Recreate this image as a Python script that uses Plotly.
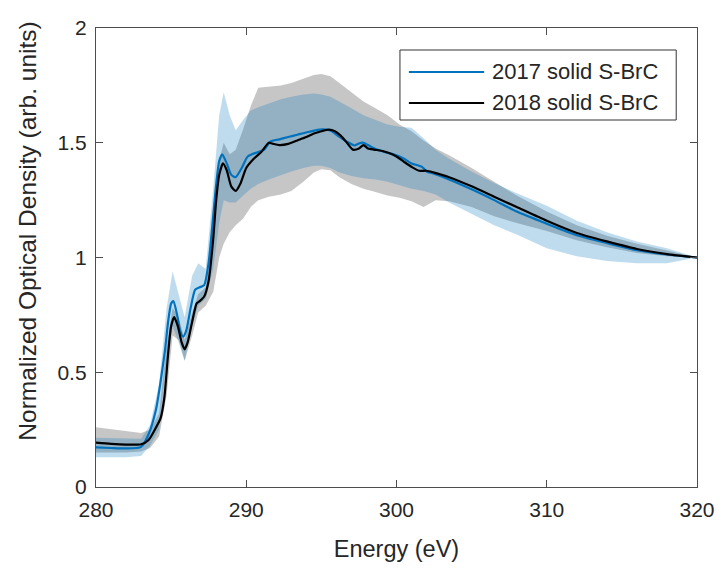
import plotly.graph_objects as go

# ---------------- data ----------------
# 2017 solid S-BrC mean spectrum
e17 = [280, 281, 282, 283, 283.5, 284, 284.3, 284.6, 284.8, 285.0, 285.15, 285.4, 285.6, 285.8,
       286.0, 286.3, 286.6, 286.9, 287.2, 287.5, 287.8, 288.0, 288.2, 288.4, 288.7, 289.0, 289.3,
       289.7, 290.1, 290.8, 291.2, 291.6, 292.2, 292.8, 293.4, 294.2, 295.0, 295.6, 296.1, 296.7,
       297.2, 297.5, 297.8, 298.1, 298.5, 299.2, 299.9, 300.5, 301.0, 301.5, 301.7, 302.0, 302.5,
       303.5, 305.0, 306.5, 308.0, 310.0, 312.0, 314.0, 316.0, 318.0, 320.0]
od17 = [0.173, 0.170, 0.168, 0.175, 0.23, 0.34, 0.46, 0.60, 0.72, 0.80, 0.81, 0.75, 0.68, 0.655,
        0.68, 0.78, 0.86, 0.87, 0.88, 0.98, 1.18, 1.32, 1.42, 1.45, 1.41, 1.36, 1.35,
        1.39, 1.44, 1.46, 1.47, 1.505, 1.515, 1.525, 1.535, 1.548, 1.558, 1.553, 1.53, 1.505,
        1.488, 1.497, 1.50, 1.49, 1.476, 1.46, 1.447, 1.43, 1.41, 1.40, 1.395, 1.375, 1.365,
        1.34, 1.297, 1.25, 1.20, 1.147, 1.097, 1.063, 1.032, 1.013, 1.0]

# 2018 solid S-BrC mean spectrum
e18 = [280, 281, 282, 283, 283.5, 284, 284.3, 284.55, 284.8, 285.0, 285.2, 285.45, 285.7, 285.9,
       286.1, 286.4, 286.7, 286.9, 287.2, 287.5, 287.8, 288.0, 288.2, 288.45, 288.7, 289.0, 289.3,
       289.6, 290.0, 290.5, 291.0, 291.5, 291.8, 292.2, 292.8, 293.4, 294.0, 294.5, 295.0, 295.5,
       295.9, 296.3, 296.7, 297.1, 297.5, 297.8, 298.1, 298.5, 299.0, 299.5, 300.0, 300.5, 301.0,
       301.5, 302.0, 302.5, 303.5, 305.0, 306.5, 308.0, 310.0, 312.0, 314.0, 316.0, 318.0, 320.0]
od18 = [0.193, 0.188, 0.185, 0.186, 0.205, 0.26, 0.30, 0.39, 0.58, 0.70, 0.74, 0.70, 0.63, 0.60,
        0.63, 0.72, 0.80, 0.81, 0.83, 0.90, 1.08, 1.25, 1.36, 1.41, 1.38, 1.31, 1.29,
        1.32, 1.39, 1.43, 1.46, 1.50, 1.495, 1.49, 1.495, 1.51, 1.525, 1.54, 1.55, 1.557,
        1.55, 1.53, 1.50, 1.47, 1.475, 1.49, 1.475, 1.47, 1.465, 1.455, 1.44, 1.417, 1.395,
        1.378, 1.378, 1.37, 1.35, 1.31, 1.265, 1.22, 1.16, 1.107, 1.07, 1.037, 1.015, 1.0]

# variability bands (energy grid shared by both bands)
e_band = [280, 282, 283, 283.6, 284.2, 284.7, 285.1, 285.5, 285.9, 286.4, 286.8, 287.3, 287.8,
          288.2, 288.5, 288.9, 289.3, 289.8, 290.3, 290.8, 291.5, 292.3, 293.0, 293.8, 294.5,
          295.0, 295.6, 296.2, 297.0, 297.8, 298.6, 299.4, 300.2, 301.0, 301.8, 302.6, 303.5,
          305.0, 306.5, 308.0, 310.0, 312.0, 314.0, 316.0, 318.0, 320.0]
hi18 = [0.26, 0.245, 0.235, 0.25, 0.32, 0.62, 0.78, 0.74, 0.64, 0.76, 0.84, 0.87, 1.12,
        1.42, 1.50, 1.45, 1.47, 1.56, 1.66, 1.74, 1.745, 1.75, 1.76, 1.78, 1.795,
        1.80, 1.79, 1.76, 1.72, 1.68, 1.65, 1.62, 1.58, 1.55, 1.51, 1.475, 1.445,
        1.39, 1.33, 1.27, 1.20, 1.14, 1.095, 1.06, 1.03, 1.0]
lo18 = [0.15, 0.15, 0.155, 0.17, 0.22, 0.40, 0.66, 0.64, 0.55, 0.66, 0.76, 0.79, 0.85,
        1.00, 1.06, 1.11, 1.14, 1.17, 1.22, 1.25, 1.265, 1.275, 1.29, 1.33, 1.37,
        1.385, 1.38, 1.35, 1.32, 1.30, 1.285, 1.27, 1.26, 1.245, 1.22, 1.25, 1.245,
        1.22, 1.18, 1.15, 1.115, 1.075, 1.045, 1.02, 1.005, 1.0]
hi17 = [0.215, 0.21, 0.21, 0.27, 0.45, 0.78, 0.94, 0.84, 0.74, 0.92, 0.975, 0.95, 1.30,
        1.62, 1.72, 1.62, 1.555, 1.60, 1.64, 1.655, 1.67, 1.69, 1.70, 1.71, 1.715,
        1.71, 1.70, 1.68, 1.65, 1.62, 1.60, 1.58, 1.57, 1.565, 1.52, 1.47, 1.43,
        1.375, 1.325, 1.28, 1.225, 1.16, 1.11, 1.07, 1.04, 1.0]
lo17 = [0.13, 0.13, 0.135, 0.18, 0.25, 0.55, 0.70, 0.63, 0.55, 0.70, 0.79, 0.82, 0.95,
        1.15, 1.25, 1.24, 1.24, 1.27, 1.30, 1.32, 1.34, 1.36, 1.375, 1.39, 1.40,
        1.40, 1.39, 1.37, 1.355, 1.345, 1.34, 1.33, 1.315, 1.30, 1.29, 1.275, 1.24,
        1.19, 1.14, 1.10, 1.04, 1.005, 0.985, 0.975, 0.975, 1.0]

x_ticks = [280, 290, 300, 310, 320]
y_ticks = [0, 0.5, 1, 1.5, 2]
names = ["2017 solid S-BrC", "2018 solid S-BrC"]
x_title = "Energy (eV)"
y_title = "Normalized Optical Density (arb. units)"

BLUE = "#0072BD"
BLACK = "#000000"
FONT = "Arial, 'Liberation Sans', sans-serif"
TXT = "#262626"
AX = "#4d4d4d"

fig = go.Figure()

# gray band (2018)
fig.add_trace(go.Scatter(
    x=e_band + e_band[::-1], y=hi18 + lo18[::-1], fill="toself",
    fillcolor="rgba(128,128,128,0.45)", line=dict(width=0), mode="lines",
    hoverinfo="skip", showlegend=False))
# light blue band (2017)
fig.add_trace(go.Scatter(
    x=e_band + e_band[::-1], y=hi17 + lo17[::-1], fill="toself",
    fillcolor="rgba(0,114,189,0.25)", line=dict(width=0), mode="lines",
    hoverinfo="skip", showlegend=False))

fig.add_trace(go.Scatter(x=e17, y=od17, mode="lines", name=names[0],
                         line=dict(color=BLUE, width=2.2, shape="spline", smoothing=0.6),
                         showlegend=False))
fig.add_trace(go.Scatter(x=e18, y=od18, mode="lines", name=names[1],
                         line=dict(color=BLACK, width=2.2, shape="spline", smoothing=0.6),
                         showlegend=False))

W, H = 727, 571
L, R, T, B = 96, 24, 28, 84
pw, ph = W - L - R, H - T - B


def px(x):
    return (x - L) / pw


def py(y):
    return (H - B - y) / ph


# custom legend box (MATLAB style, long line samples)
fig.add_shape(type="rect", xref="paper", yref="paper",
              x0=px(403), x1=px(682), y0=py(120), y1=py(50),
              line=dict(color="#333333", width=1), fillcolor="white", layer="above")
for i, (nm, col) in enumerate(zip(names, [BLUE, BLACK])):
    yc = [72, 103][i]
    fig.add_shape(type="line", xref="paper", yref="paper",
                  x0=px(412), x1=px(488), y0=py(yc), y1=py(yc),
                  line=dict(color=col, width=2.2), layer="above")
    fig.add_annotation(xref="paper", yref="paper", x=px(494), y=py(yc),
                       text=nm, showarrow=False, xanchor="left", yanchor="middle",
                       font=dict(family=FONT, size=22, color=TXT))

# y-axis title as rotated text
fig.add_annotation(xref="paper", yref="paper", x=px(27), y=py(231),
                   text=y_title, textangle=-90, showarrow=False,
                   xanchor="center", yanchor="middle",
                   font=dict(family=FONT, size=24.5, color=TXT))

axis_common = dict(
    showgrid=False, zeroline=False, showline=True, linecolor=AX, linewidth=1.3,
    mirror="ticks", ticks="inside", ticklen=7, tickwidth=1.2, tickcolor=AX,
    tickfont=dict(family=FONT, size=21, color=TXT), ticklabelstandoff=4,
)

fig.update_layout(
    width=W, height=H,
    margin=dict(l=L, r=R, t=T, b=B),
    paper_bgcolor="white", plot_bgcolor="white",
    font=dict(family=FONT, color=TXT),
    xaxis=dict(range=[280, 320], tickvals=x_ticks,
               title=dict(text=x_title, font=dict(family=FONT, size=23.5, color=TXT),
                          standoff=20),
               **axis_common),
    yaxis=dict(range=[0, 2], tickvals=y_ticks, **axis_common),
)

fig.write_html("out.html")
